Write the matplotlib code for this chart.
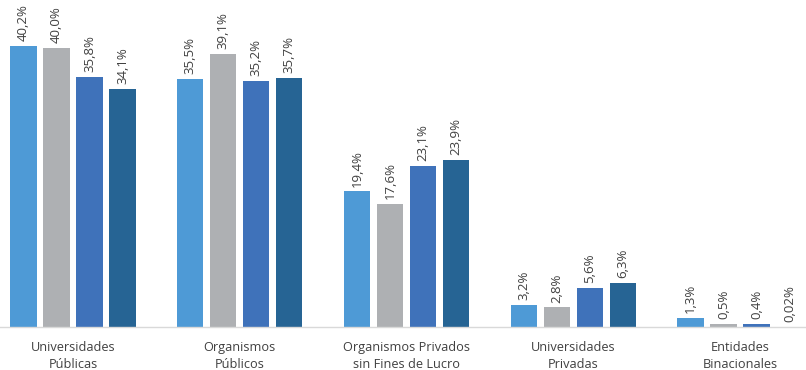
import matplotlib.pyplot as plt
import numpy as np

plt.rcParams['font.family'] = ['Open Sans', 'DejaVu Sans']

categories = ["Universidades\nPúblicas", "Organismos\nPúblicos",
              "Organismos Privados\nsin Fines de Lucro", "Universidades\nPrivadas",
              "Entidades\nBinacionales"]
s1 = [40.2, 35.5, 19.4, 3.2, 1.3]
s2 = [40.0, 39.1, 17.6, 2.8, 0.5]
s3 = [35.8, 35.2, 23.1, 5.6, 0.4]
s4 = [34.1, 35.7, 23.9, 6.3, 0.02]
colors = ["#4E9AD6", "#AEB0B3", "#3F72BA", "#266494"]


def fmt(v):
    s = f"{v:.2f}" if v < 0.1 else f"{v:.1f}"
    return s.replace('.', ',') + "%"


fig = plt.figure(figsize=(8.06, 3.70), dpi=100)
ax = fig.add_axes([0, 0.1162, 1, 0.8838])

x = np.arange(len(categories))
pitch = 0.198
width = 0.157
for j, (vals, c) in enumerate(zip([s1, s2, s3, s4], colors)):
    xs = x + (j - 1.5) * pitch
    ax.bar(xs, vals, width=width, color=c, zorder=2)
    for xi, v in zip(xs, vals):
        ax.annotate(fmt(v), (xi, v), xytext=(0, 3.5), textcoords='offset points',
                    rotation=90, ha='center', va='bottom', fontsize=9.5, color='#404040')

ax.set_xlim(-0.438, 4.396)
ax.set_ylim(0, 46.8)
ax.set_yticks([])
ax.set_xticks(x)
ax.set_xticklabels(categories, fontsize=9.2, color='#404040', linespacing=1.4)
ax.tick_params(axis='x', length=0, pad=10)
for s in ['top', 'right', 'left']:
    ax.spines[s].set_visible(False)
ax.spines['bottom'].set_color('#D9D9D9')
ax.spines['bottom'].set_linewidth(1)

fig.savefig("out.png", dpi=100)
